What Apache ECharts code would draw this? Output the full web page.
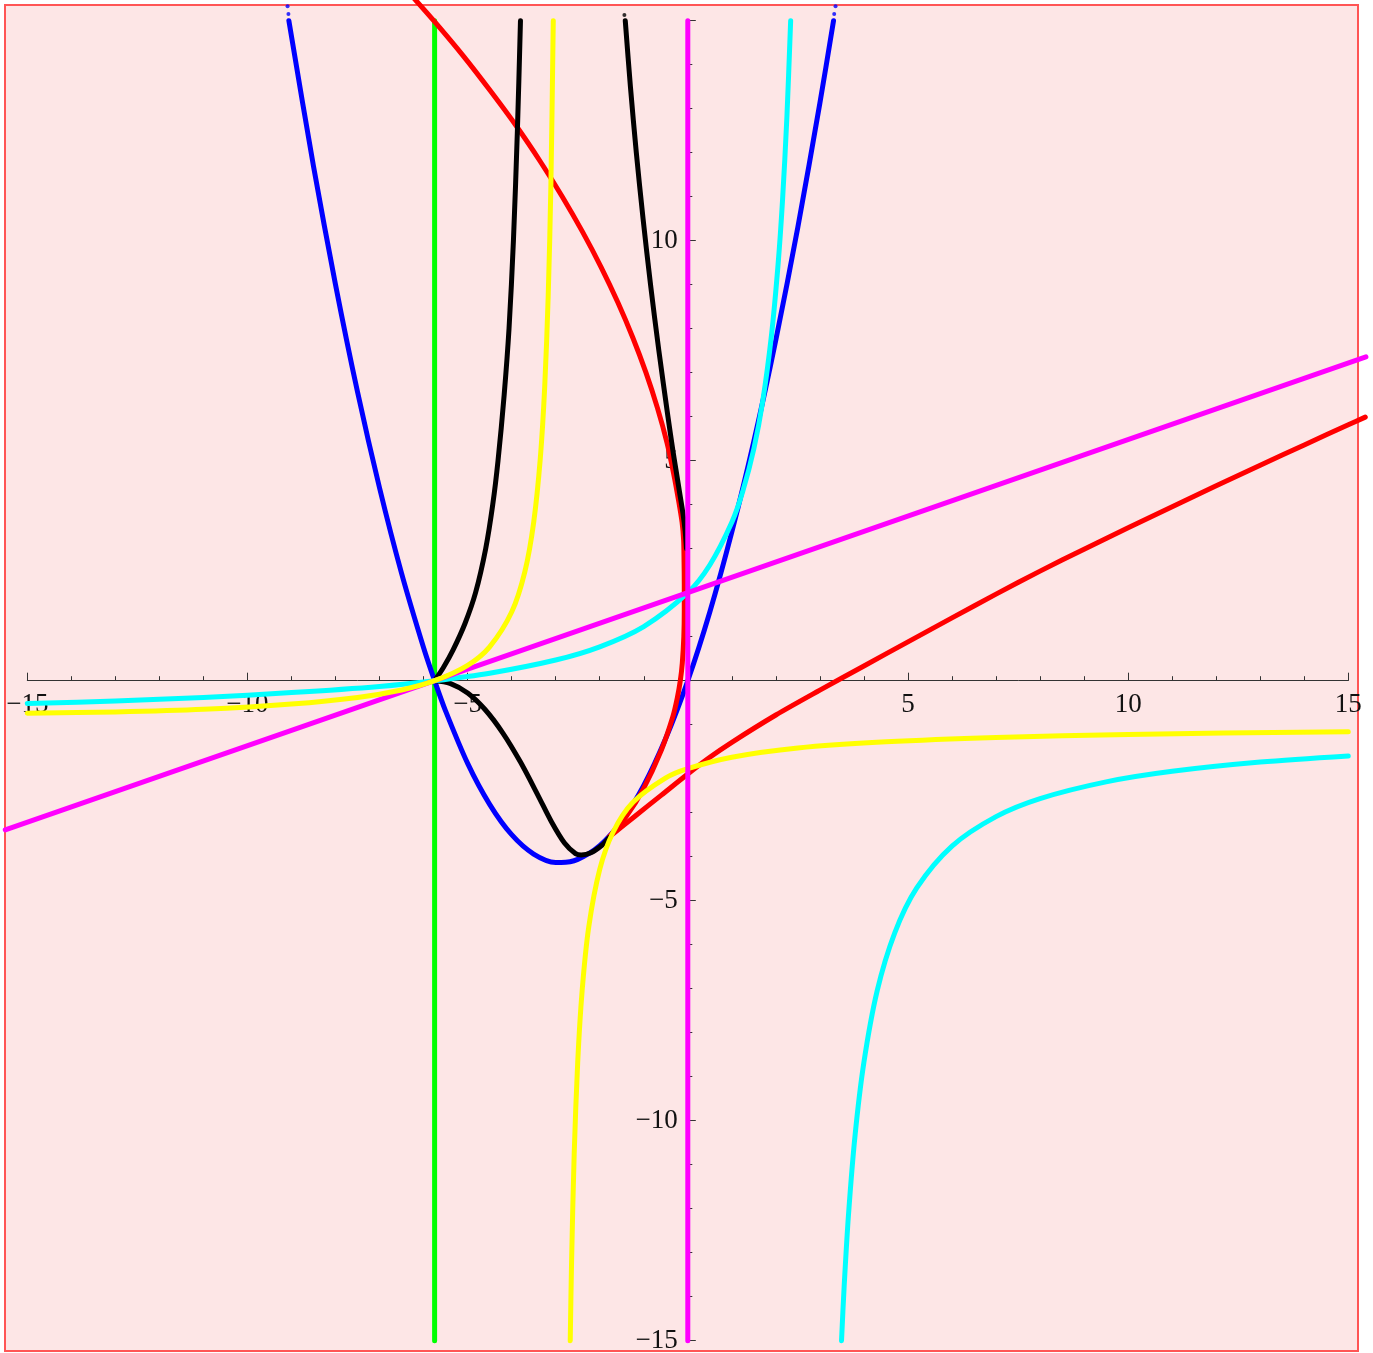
<!DOCTYPE html>
<html><head><meta charset="utf-8">
<script src="https://cdn.jsdelivr.net/npm/echarts/dist/echarts.min.js"></script>
<style>html,body{margin:0;padding:0;background:#fff}#c{width:1373px;height:1353px}</style>
</head><body><div id="c"></div>
<script>
// tick labels shown
const xLabelValues = [-15, -10, -5, 5, 10, 15];
const yLabelValues = [-15, -10, -5, 5, 10];

// green vertical line
const greenX = [-5.75, -5.75];
const greenY = [-15, 15];

// magenta vertical line
const magVX = [0, 0];
const magVY = [-15, 15];

// magenta slanted line (runs slightly past the frame)
const magSX = [-15.5, 15.4];
const magSY = [-3.39, 7.36];

// blue parabola
const blueX = [-9.06,-8.5,-8,-7.5,-7,-6.5,-6,-5.75,-5.5,-5,-4.5,-4,-3.5,-3,-2.875,-2.5,-2,-1.5,-1,-0.5,0,0.5,1,1.5,2,2.5,3,3.31];
const blueY = [15,11.69,9,6.56,4.38,2.44,0.75,0,-0.69,-1.88,-2.81,-3.5,-3.94,-4.13,-4.13,-4.06,-3.75,-3.19,-2.38,-1.31,0,1.56,3.38,5.44,7.75,10.31,13.13,15];

// red curve: upper arm (top -> cusp) and lower arm (cusp -> right)
const redUX = [-6.3,-5.77,-5.1,-4.48,-3.89,-3.35,-2.85,-2.39,-1.97,-1.59,-1.25,-0.95,-0.69,-0.47,-0.32,-0.21,-0.13,-0.095,-0.085,-0.08,-0.08,-0.09,-0.125,-0.17,-0.24,-0.34,-0.6,-1.02,-1.4,-1.78];
const redUY = [15.6,15.0,14.2,13.4,12.6,11.8,11.0,10.2,9.4,8.6,7.8,7.0,6.2,5.4,4.7,4.1,3.6,3.2,2.7,2.2,1.6,1.0,0.4,0,-0.4,-0.82,-1.575,-2.48,-3.09,-3.545];
const redLX = [-1.78,-1.2,-0.6,0,0.5,1,2,3,4,5,6,7,8,9,10,11,12,13,14,15,15.385];
const redLY = [-3.545,-3.08,-2.6,-2.12,-1.74,-1.40,-0.78,-0.215,0.335,0.883,1.428,1.968,2.49,2.99,3.475,3.955,4.429,4.897,5.359,5.816,5.99];

// black curve pieces
const blackAX = [-5.75,-5.55,-5.33,-5.06,-4.82,-4.59,-4.43,-4.31,-4.17,-4.06,-3.96,-3.87,-3.80];
const blackAY = [0,0.3,0.7,1.3,2.0,3.0,4.0,5.0,6.5,8.0,10.0,12.5,15];
const blackBX = [-5.75,-5.4,-5.0,-4.6,-4.2,-3.8,-3.4,-3.1,-2.8,-2.55,-2.42,-2.2,-1.95,-1.78];
const blackBY = [0,-0.06,-0.28,-0.66,-1.19,-1.85,-2.61,-3.2,-3.69,-3.93,-3.96,-3.91,-3.74,-3.56];
const blackCX = [-1.42,-1.303,-1.169,-1.016,-0.846,-0.657,-0.451,-0.34,-0.27,-0.19,-0.11,-0.06,-0.03];
const blackCY = [15,13.5,12,10.5,9,7.5,6,5.24,4.8,4.3,3.8,3.4,3.0];

// cyan hyperbola branches
const cyanLX = [-15,-13,-11,-9,-7,-5.75,-4.5,-3,-2,-1,0,0.5,1,1.25,1.5,1.7,1.9,2.05,2.15,2.25,2.336];
const cyanLY = [-0.52,-0.46,-0.38,-0.27,-0.13,0,0.17,0.47,0.77,1.23,2,2.63,3.6,4.31,5.27,6.34,7.85,9.46,10.9,12.8,15];
const cyanRX = [3.491,3.55,3.65,3.8,4,4.3,4.7,5.2,6,7,8,9.5,11,13,15];
const cyanRY = [-15,-13.78,-12.13,-10.32,-8.67,-7.05,-5.73,-4.71,-3.76,-3.09,-2.68,-2.30,-2.06,-1.85,-1.71];

// yellow hyperbola branches
const yelLX = [-15,-13,-11,-9,-7.5,-6.5,-5.75,-5,-4.5,-4,-3.7,-3.5,-3.35,-3.25,-3.17,-3.11,-3.055];
const yelLY = [-0.74,-0.71,-0.65,-0.53,-0.38,-0.21,0,0.35,0.77,1.56,2.48,3.6,5.05,6.67,8.75,11.23,15];
const yelRX = [-2.67,-2.64,-2.58,-2.5,-2.4,-2.25,-2,-1.7,-1.25,-0.5,0,1,2.5,4.5,7,10,15];
const yelRY = [-15,-13.23,-10.75,-8.67,-7.05,-5.6,-4.29,-3.45,-2.77,-2.21,-2,-1.74,-1.53,-1.39,-1.29,-1.22,-1.16];

// stray dots at top
const blueDotX = [-9.09,-9.07,3.355,3.325];
const blueDotY = [15.33,15.15,15.33,15.15];
const blackDotX = [-1.44];
const blackDotY = [15.13];

function pts(xs, ys) { return xs.map((x, i) => [x, ys[i]]); }
function fmt(v) { return String(v).replace('-', '\u2212'); }

function line(xs, ys, color, smooth, wide) {
  return {
    type: 'line', data: pts(xs, ys), showSymbol: false, symbol: 'none', clip: false,
    xAxisIndex: wide ? 1 : 0, yAxisIndex: wide ? 1 : 0,
    smooth: smooth ? 0.3 : false, silent: true, animation: false,
    lineStyle: { color: color, width: 5, cap: 'round', join: 'round' }
  };
}

const font = "'Liberation Serif', 'Times New Roman', serif";
const axisColor = '#333';
const W = 1373, H = 1353;
const gridL = 27.3, gridR = 24.7, gridT = 20.7, gridB = 12.3;
const gridW = W - gridL - gridR, gridH = H - gridT - gridB;
const unitPx = gridW / 30;

const chart = echarts.init(document.getElementById('c'), null, { renderer: 'canvas' });
chart.setOption({
  animation: false,
  backgroundColor: '#ffffff',
  graphic: [{
    type: 'rect', z: -10, silent: true,
    shape: { x: 5, y: 5, width: 1353, height: 1346 },
    style: { fill: '#fde6e6', stroke: '#ff5555', lineWidth: 2 }
  }],
  grid: [
    { left: gridL, right: gridR, top: gridT, bottom: gridB, containLabel: false, outerBoundsMode: 'none' },
    { left: gridL - 0.5 * unitPx, right: gridR - 0.5 * unitPx, top: gridT, bottom: gridB, containLabel: false, outerBoundsMode: 'none' }
  ],
  xAxis: [{
    type: 'value', gridIndex: 0, min: -15, max: 15, interval: 5, position: 'bottom', offset: -gridH / 2,
    axisLine: { onZero: false, lineStyle: { color: axisColor, width: 1 } },
    axisTick: { inside: true, length: 8, lineStyle: { color: axisColor } },
    minorTick: { show: true, splitNumber: 5, length: 4.5, lineStyle: { color: axisColor } },
    splitLine: { show: false },
    axisLabel: {
      margin: 11, fontFamily: font, fontSize: 27, color: '#111',
      showMinLabel: true, showMaxLabel: true, hideOverlap: false,
      formatter: v => xLabelValues.includes(v) ? fmt(v) : ''
    }
  }, {
    type: 'value', gridIndex: 1, min: -15.5, max: 15.5, show: false
  }],
  yAxis: [{
    type: 'value', gridIndex: 0, min: -15, max: 15, interval: 5, position: 'left', offset: -gridW / 2,
    axisLine: { onZero: false, lineStyle: { color: axisColor, width: 1 } },
    axisTick: { inside: true, length: 8, lineStyle: { color: axisColor } },
    minorTick: { show: true, splitNumber: 5, length: 4.5, lineStyle: { color: axisColor } },
    splitLine: { show: false },
    axisLabel: {
      margin: 10, fontFamily: font, fontSize: 27, color: '#111',
      showMinLabel: true, showMaxLabel: true, hideOverlap: false,
      formatter: v => yLabelValues.includes(v) ? fmt(v) : ''
    }
  }, {
    type: 'value', gridIndex: 1, min: -15, max: 15, show: false
  }],
  series: [
    line(greenX, greenY, '#00ff00', false),
    line(blueX, blueY, '#0000ff', true),
    line(redUX, redUY, '#ff0000', true),
    line(redLX, redLY, '#ff0000', true, true),
    line(blackAX, blackAY, '#000000', true),
    line(blackBX, blackBY, '#000000', true),
    line(blackCX, blackCY, '#000000', true),
    line(cyanLX, cyanLY, '#00ffff', true),
    line(cyanRX, cyanRY, '#00ffff', true),
    line(magSX, magSY, '#ff00ff', false, true),
    line(yelLX, yelLY, '#ffff00', true),
    line(yelRX, yelRY, '#ffff00', true),
    line(magVX, magVY, '#ff00ff', false),
    { type: 'scatter', data: pts(blueDotX, blueDotY), symbolSize: 4, clip: false, silent: true,
      itemStyle: { color: '#0000ff' } },
    { type: 'scatter', data: pts(blackDotX, blackDotY), symbolSize: 4, clip: false, silent: true,
      itemStyle: { color: '#000000' } }
  ]
});
</script>
</body></html>
